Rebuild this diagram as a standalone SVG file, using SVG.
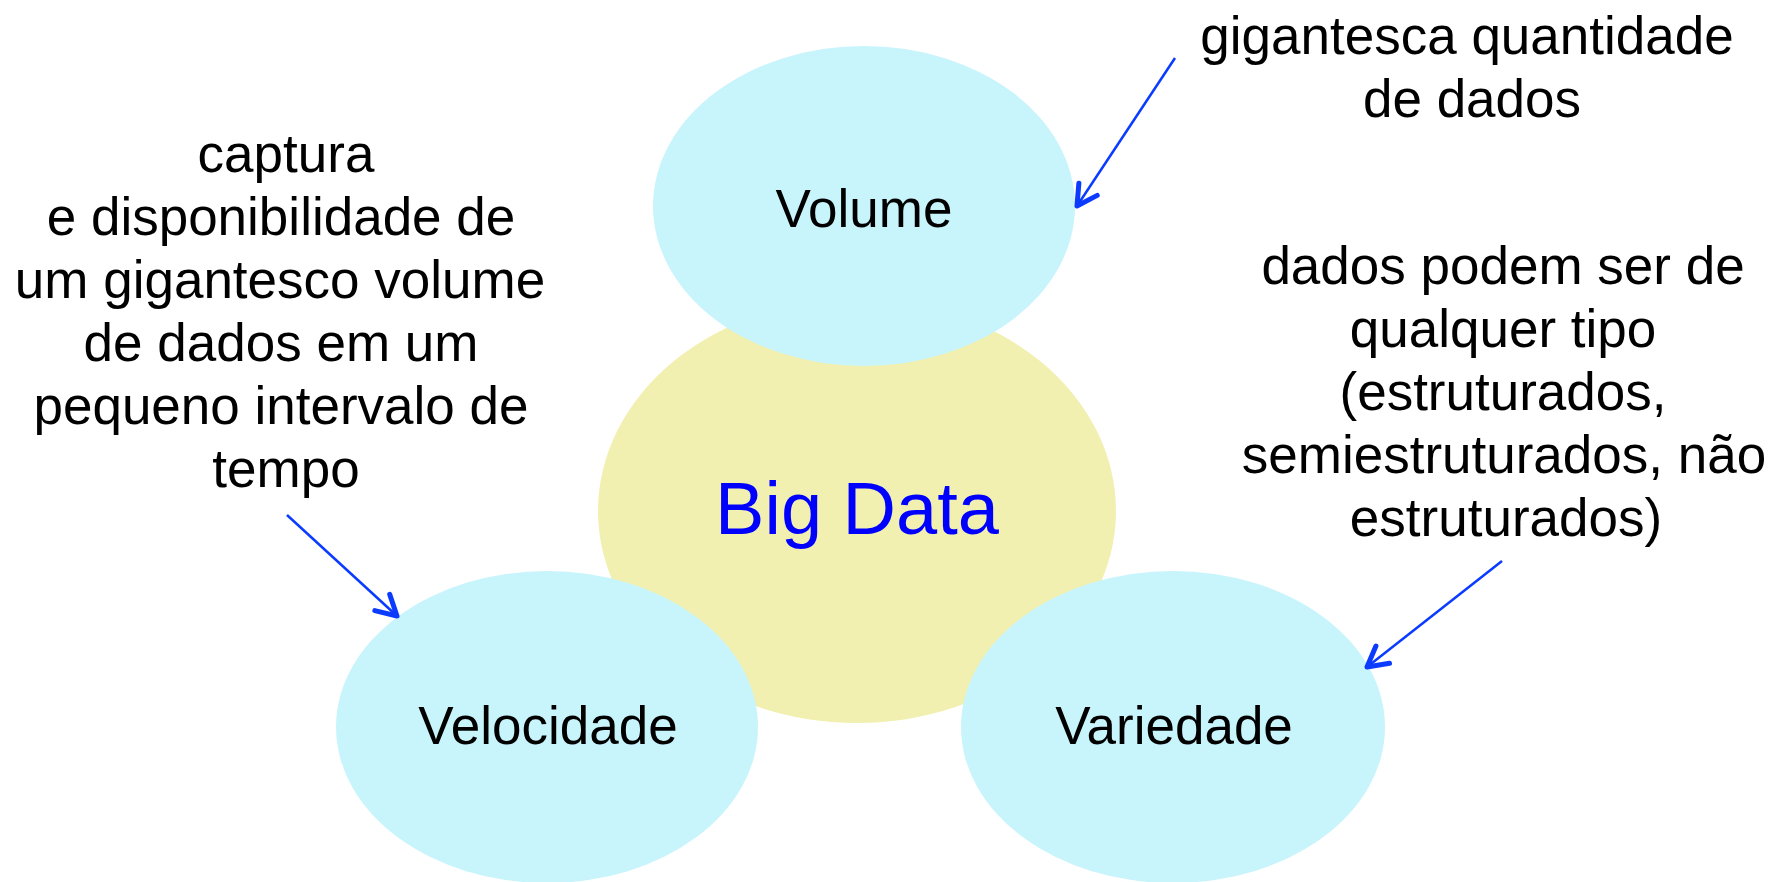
<svg xmlns="http://www.w3.org/2000/svg" width="1780" height="882" viewBox="0 0 1780 882">
<defs>
<style>
.t{font-family:"Liberation Sans",Arial,sans-serif;font-size:53px;fill:#000;text-anchor:middle}
.big{font-family:"Liberation Sans",Arial,sans-serif;font-size:74px;fill:#0000FF;text-anchor:middle}
.sat{fill:#C8F4FC}
.core{fill:#F1F0B0}
.conn{stroke:#0A3BFF;stroke-width:2.5;fill:none}
</style>
<marker id="ah" markerUnits="userSpaceOnUse" markerWidth="40" markerHeight="40" viewBox="-30 -20 40 40" refX="0" refY="0" orient="auto">
<path d="M-20,-11 L0,0 L-20,11" fill="none" stroke="#0A3BFF" stroke-width="5" stroke-linecap="round" stroke-linejoin="round"/>
</marker>
</defs>
<rect width="1780" height="882" fill="#fff"/>
<g id="bigdata">
<ellipse class="core" cx="857" cy="511" rx="259" ry="212"/>
</g>
<g id="volume">
<ellipse class="sat" cx="864" cy="206" rx="211" ry="160"/>
<text class="t" x="864" y="227">Volume</text>
</g>
<g id="velocidade">
<ellipse class="sat" cx="547" cy="727" rx="211" ry="156"/>
<text class="t" x="548" y="744">Velocidade</text>
</g>
<g id="variedade">
<ellipse class="sat" cx="1173" cy="727" rx="212" ry="156"/>
<text class="t" x="1174" y="744">Variedade</text>
</g>
<g id="bigdata-label">
<text class="big" x="857" y="534">Big Data</text>
</g>
<g id="note-volume">
<text class="t" x="1467" y="54">gigantesca quantidade</text>
<text class="t" x="1472" y="117">de dados</text>
</g>
<g id="note-velocidade">
<text class="t" x="286" y="172">captura</text>
<text class="t" x="281" y="235">e disponibilidade de</text>
<text class="t" x="280" y="298">um gigantesco volume</text>
<text class="t" x="281" y="361">de dados em um</text>
<text class="t" x="281" y="424">pequeno intervalo de</text>
<text class="t" x="286" y="487">tempo</text>
</g>
<g id="note-variedade">
<text class="t" x="1503" y="284">dados podem ser de</text>
<text class="t" x="1503" y="347">qualquer tipo</text>
<text class="t" x="1503" y="410">(estruturados,</text>
<text class="t" x="1504" y="473">semiestruturados, não</text>
<text class="t" x="1506" y="536">estruturados)</text>
</g>
<g id="connectors">
<line class="conn" x1="1175" y1="58" x2="1077" y2="206" marker-end="url(#ah)"/>
<line class="conn" x1="287" y1="515" x2="397" y2="616" marker-end="url(#ah)"/>
<line class="conn" x1="1502" y1="561" x2="1367" y2="667" marker-end="url(#ah)"/>
</g>
</svg>
